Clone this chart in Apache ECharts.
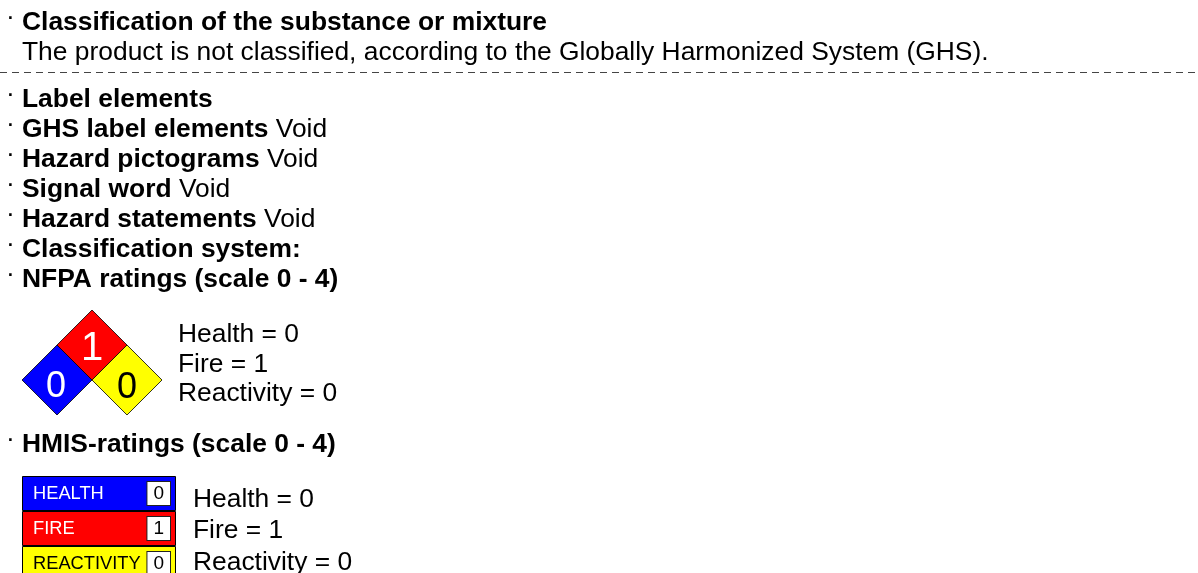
<!DOCTYPE html>
<html>
<head>
<meta charset="utf-8">
<script src="https://cdn.jsdelivr.net/npm/echarts@6/dist/echarts.min.js"></script>
<style>
html,body{margin:0;padding:0;background:#fff;}
#main{width:1198px;height:573px;}
</style>
</head>
<body>
<div id="main"></div>
<script>
// ---- data ----
const headingTitle = 'Classification of the substance or mixture';
const headingText = 'The product is not classified, according to the Globally Harmonized System (GHS).';
const itemLabels = ['Label elements', 'GHS label elements', 'Hazard pictograms', 'Signal word', 'Hazard statements', 'Classification system:', 'NFPA ratings (scale 0 - 4)'];
const itemValues = ['', 'Void', 'Void', 'Void', 'Void', '', ''];
const hmisTitle = 'HMIS-ratings (scale 0 - 4)';
const ratingNames = ['Health', 'Fire', 'Reactivity'];
const nfpaValues = [0, 1, 0];
const hmisCategories = ['HEALTH', 'FIRE', 'REACTIVITY'];
const hmisValues = [0, 1, 0];

// ---- styling / layout ----
const FONT = 'Liberation Sans';
const FS = 26.4;
const DY = 1.5;
const colors = ['#0000ff', '#ff0000', '#ffff00'];
const textColors = ['#ffffff', '#ffffff', '#000000'];

const chart = echarts.init(document.getElementById('main'), null, {renderer: 'canvas'});

const graphic = [];
function bullet(y) {
  graphic.push({type: 'text', x: 6, y: y + DY - 5, silent: true,
    style: {text: '\u00b7', fontFamily: FONT, fontSize: FS, fill: '#000', verticalAlign: 'middle', align: 'left'}});
}
function richLine(y, bold, normal, x) {
  graphic.push({type: 'text', x: x === undefined ? 22 : x, y: y + DY, silent: true,
    style: {
      text: '{b|' + bold + '}' + (normal ? ' {n|' + normal + '}' : ''),
      fontFamily: FONT, fontSize: FS, fill: '#000', verticalAlign: 'middle', align: 'left',
      rich: {
        b: {fontFamily: FONT, fontSize: FS, fontWeight: 'bold', fill: '#000', color: '#000'},
        n: {fontFamily: FONT, fontSize: FS, fontWeight: 'normal', fill: '#000', color: '#000'}
      }
    }});
}
function plainLine(y, txt, x) {
  graphic.push({type: 'text', x: x, y: y + DY, silent: true,
    style: {text: txt, fontFamily: FONT, fontSize: FS, fill: '#000', verticalAlign: 'middle', align: 'left'}});
}

bullet(21);
richLine(21, headingTitle, '');
plainLine(51, headingText, 22);
graphic.push({type: 'line', silent: true,
  shape: {x1: 0, y1: 72.5, x2: 1198, y2: 72.5},
  style: {stroke: '#444', lineWidth: 1, lineDash: [7, 5]}});

itemLabels.forEach(function (lab, i) {
  const y = 98 + i * 30;
  bullet(y);
  richLine(y, lab, itemValues[i]);
});

const nfpaTextY = [333, 363, 392];
ratingNames.forEach(function (n, i) {
  plainLine(nfpaTextY[i], n + ' = ' + nfpaValues[i], 178);
});

bullet(443);
richLine(443, hmisTitle, '');

const hmisTextY = [498, 529, 561];
ratingNames.forEach(function (n, i) {
  plainLine(hmisTextY[i], n + ' = ' + hmisValues[i], 193);
});

// NFPA diamond layout (x index, y index) for health, fire, reactivity
const nfpaPos = [[0, 0], [1, 1], [2, 0]];
const nfpaLabelSize = [36, 40, 36];
const nfpaOffset = [[-1, 7], [0, 4], [0, 8]];

const nfpaData = nfpaValues.map(function (v, i) {
  return {
    value: [nfpaPos[i][0], nfpaPos[i][1], v],
    name: ratingNames[i],
    itemStyle: {color: colors[i]},
    label: {color: textColors[i], fontSize: nfpaLabelSize[i], offset: nfpaOffset[i]}
  };
});

const option = {
  backgroundColor: '#ffffff',
  animation: false,
  grid: [
    {left: 57, top: 345, width: 70, height: 35, outerBoundsMode: 'none', containLabel: false},
    {left: 22, top: 476, width: 154, height: 105, outerBoundsMode: 'none', containLabel: false}
  ],
  xAxis: [
    {gridIndex: 0, type: 'value', min: 0, max: 2, show: false},
    {gridIndex: 1, type: 'value', min: 0, max: 1, show: false}
  ],
  yAxis: [
    {gridIndex: 0, type: 'value', min: 0, max: 1, show: false},
    {gridIndex: 1, type: 'category', data: hmisCategories, inverse: true, show: false}
  ],
  series: [
    {
      type: 'scatter', xAxisIndex: 0, yAxisIndex: 0,
      symbol: 'diamond', symbolSize: 70, clip: false, silent: true,
      itemStyle: {borderColor: '#000', borderWidth: 0.8, opacity: 1},
      label: {show: true, position: 'inside', fontFamily: FONT,
        formatter: function (p) { return String(p.value[2]); }},
      data: nfpaData
    },
    {
      type: 'bar', xAxisIndex: 1, yAxisIndex: 1, barCategoryGap: '0%', silent: true, clip: false,
      itemStyle: {borderColor: '#000', borderWidth: 1},
      label: {show: true, position: 'insideLeft', distance: 11, fontFamily: FONT, fontSize: 18.3,
        formatter: function (p) { return p.name; }},
      data: hmisCategories.map(function (c, i) {
        return {value: 1, itemStyle: {color: colors[i]}, label: {color: textColors[i]}};
      })
    },
    {
      type: 'bar', xAxisIndex: 1, yAxisIndex: 1, barCategoryGap: '0%', barGap: '-100%', silent: true, clip: false,
      itemStyle: {color: 'rgba(0,0,0,0)'},
      z: 5,
      label: {show: true, position: 'insideRight', distance: 6, fontFamily: FONT, fontSize: 19,
        color: '#000', backgroundColor: '#fff', borderColor: '#222', borderWidth: 1,
        padding: [1, 6, 1, 6], lineHeight: 21,
        formatter: function (p) { return String(hmisValues[p.dataIndex]); }},
      data: hmisCategories.map(function () { return 1; })
    }
  ],
  graphic: graphic
};
chart.setOption(option);
</script>
</body>
</html>
